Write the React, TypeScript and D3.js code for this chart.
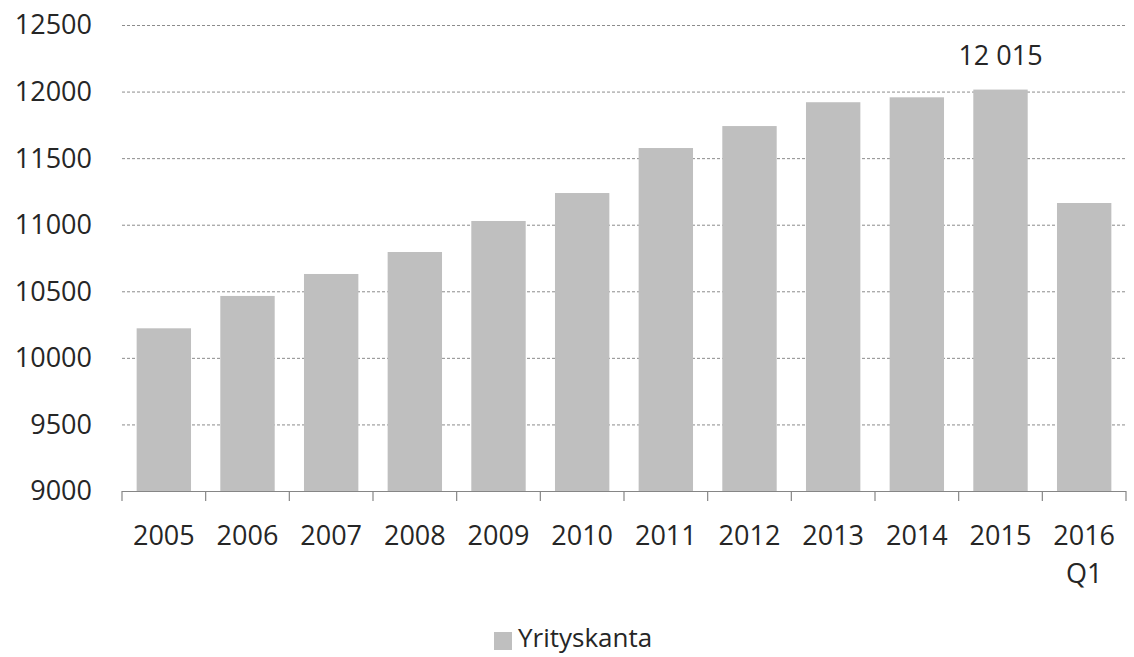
import React, { useEffect, useRef } from 'react';
import * as d3 from 'd3';

const categories = ['2005', '2006', '2007', '2008', '2009', '2010', '2011', '2012', '2013', '2014', '2015', '2016\nQ1'];
const values = [10222, 10465, 10630, 10795, 11028, 11238, 11576, 11741, 11920, 11957, 12015, 11163];
const yTicks = [9000, 9500, 10000, 10500, 11000, 11500, 12000, 12500];
const seriesName = 'Yrityskanta';
const labelledIndex = 10;
const labelText = '12 015';

const W = 1134;
const H = 657;

const App: React.FC = () => {
  const svgRef = useRef<SVGSVGElement>(null);

  useEffect(() => {
    if (!svgRef.current) return;
    const svg = d3.select(svgRef.current);
    svg.selectAll('*').remove();

    const font = '"Open Sans", "Liberation Sans", sans-serif';
    const textColor = '#262626';
    const left = 122;
    const right = 1126;
    const top = 25;
    const bottom = 491;

    const x = d3.scaleBand<string>()
      .domain(categories)
      .range([left, right])
      .paddingInner(0.35)
      .paddingOuter(0.175);

    const y = d3.scaleLinear()
      .domain([9000, 12500])
      .range([bottom, top]);

    // gridlines
    svg.append('g')
      .selectAll('line')
      .data(yTicks.filter(t => t > 9000))
      .enter()
      .append('line')
      .attr('x1', left)
      .attr('x2', right)
      .attr('y1', d => y(d) + 0.5)
      .attr('y2', d => y(d) + 0.5)
      .attr('stroke', '#8c8c8c')
      .attr('stroke-width', 1)
      .attr('stroke-dasharray', '3,2');

    // bars
    svg.append('g')
      .selectAll('rect')
      .data(values)
      .enter()
      .append('rect')
      .attr('x', (_, i) => x(categories[i]) || 0)
      .attr('width', x.bandwidth())
      .attr('y', d => y(d))
      .attr('height', d => bottom - y(d))
      .attr('fill', '#bfbfbf');

    // x axis line and ticks
    const axis = svg.append('g');
    axis.append('line')
      .attr('x1', left)
      .attr('x2', right)
      .attr('y1', bottom + 0.5)
      .attr('y2', bottom + 0.5)
      .attr('stroke', '#868686')
      .attr('stroke-width', 1.2);

    const step = x.step();
    const tickPositions = d3.range(categories.length + 1).map(i => left + i * step);
    axis.selectAll('.tick')
      .data(tickPositions)
      .enter()
      .append('line')
      .attr('x1', d => d)
      .attr('x2', d => d)
      .attr('y1', bottom)
      .attr('y2', bottom + 10)
      .attr('stroke', '#868686')
      .attr('stroke-width', 1.2);

    // x labels
    const xl = svg.append('g')
      .selectAll('text')
      .data(categories)
      .enter()
      .append('text')
      .attr('text-anchor', 'middle')
      .attr('font-family', font)
      .attr('font-size', 27)
      .attr('fill', textColor);
    xl.each(function (d) {
      const el = d3.select(this);
      const cx = (x(d) || 0) + x.bandwidth() / 2;
      d.split('\n').forEach((line, k) => {
        el.append('tspan')
          .attr('x', cx)
          .attr('y', 545 + k * 38)
          .text(line);
      });
    });

    // y labels
    svg.append('g')
      .selectAll('text')
      .data(yTicks)
      .enter()
      .append('text')
      .attr('x', 92)
      .attr('y', d => y(d))
      .attr('dy', '0.35em')
      .attr('text-anchor', 'end')
      .attr('font-family', font)
      .attr('font-size', 27)
      .attr('fill', textColor)
      .text(d => String(d));

    // data label
    svg.append('text')
      .attr('x', (x(categories[labelledIndex]) || 0) + x.bandwidth() / 2)
      .attr('y', y(values[labelledIndex]) - 25)
      .attr('text-anchor', 'middle')
      .attr('font-family', font)
      .attr('font-size', 27)
      .attr('fill', textColor)
      .text(labelText);

    // legend
    const lg = svg.append('g');
    lg.append('rect')
      .attr('x', 494)
      .attr('y', 632)
      .attr('width', 18)
      .attr('height', 18)
      .attr('fill', '#bfbfbf');
    lg.append('text')
      .attr('x', 518)
      .attr('y', 647)
      .attr('font-family', font)
      .attr('font-size', 26)
      .attr('fill', textColor)
      .text(seriesName);
  }, []);

  return (
    <svg
      ref={svgRef}
      width={W}
      height={H}
      style={{ position: 'absolute', left: 0, top: 0, background: '#fff' }}
    />
  );
};

export default App;
